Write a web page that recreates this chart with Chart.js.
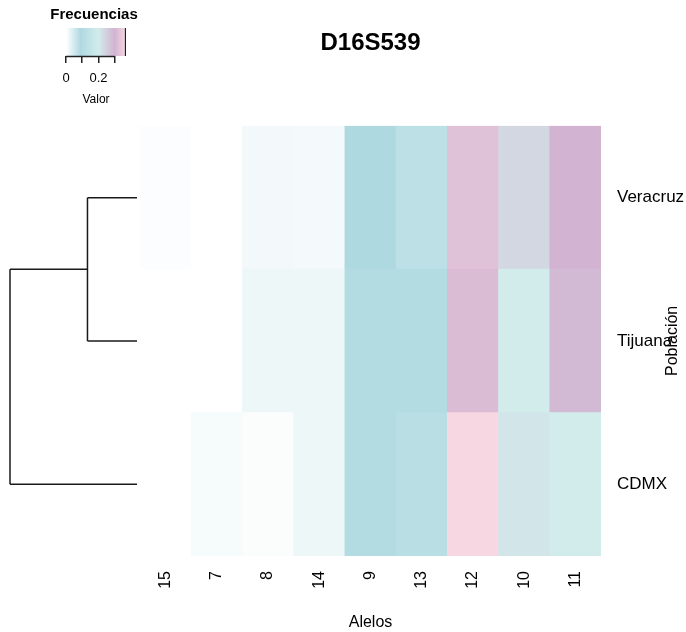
<!DOCTYPE html>
<html lang="es">
<head>
<meta charset="UTF-8">
<title>D16S539</title>
<script src="https://cdn.jsdelivr.net/npm/chart.js@4.4.1/dist/chart.umd.min.js"></script>
<style>
  body {margin: 0; background: #fff;}
  #lienzo {position: relative; width: 686px; height: 632px;}
  #lienzo canvas {position: absolute; left: 0; top: 0;}
</style>
</head>
<body>
<div id="lienzo">
  <canvas id="heat" width="686" height="632"></canvas>
  <canvas id="dendro" width="686" height="632"></canvas>
  <canvas id="clave" width="686" height="632"></canvas>
</div>
<script>
// alelos en el orden de las columnas
const alelos = ['15', '7', '8', '14', '9', '13', '12', '10', '11'];
// poblaciones de arriba hacia abajo
const poblaciones = ['Veracruz', 'Tijuana', 'CDMX'];

// frecuencias por poblacion (mismo orden que alelos)
const veracruz = [0.004, 0, 0.014, 0.012, 0.09, 0.13, 0.327, 0.237, 0.30];
const tijuana  = [0, 0, 0.02, 0.02, 0.10, 0.10, 0.316, 0.20, 0.29];
const cdmx     = [0, 0.01, 0.005, 0.02, 0.10, 0.12, 0.37, 0.21, 0.20];

// dendrograma: altura de union (Veracruz+Tijuana), luego (+CDMX)
const alturasUnion = [0.39, 1.0];

// escala de color
const escalaValores = [0, 0.09, 0.2, 0.3, 0.37];
const escalaColores = ['#ffffff', '#afd9e1', '#d2ecec', '#d2b4d2', '#f7d7e1'];
const clavePasos = [0, 0.1, 0.2, 0.3];
const claveEtiquetas = ['0', '', '0.2', ''];

const fuente = "'Liberation Sans', Arial, sans-serif";
const maxValor = Math.max(...veracruz, ...tijuana, ...cdmx);

function hexRgb(h) {
  return [1, 3, 5].map(i => parseInt(h.substr(i, 2), 16));
}
function colorDe(v) {
  for (let i = 1; i < escalaValores.length; i++) {
    if (v <= escalaValores[i] || i === escalaValores.length - 1) {
      let t = (v - escalaValores[i - 1]) / (escalaValores[i] - escalaValores[i - 1]);
      t = Math.max(0, Math.min(1, t));
      const a = hexRgb(escalaColores[i - 1]), b = hexRgb(escalaColores[i]);
      const c = a.map((x, k) => Math.round(x + (b[k] - x) * t));
      return `rgb(${c[0]},${c[1]},${c[2]})`;
    }
  }
}

// ---- mapa de calor ----
// apiladas de abajo (CDMX) hacia arriba (Veracruz)
const filas = [cdmx, tijuana, veracruz];

const textoPoblacion = {
  id: 'textoPoblacion',
  afterDraw(chart) {
    const ctx = chart.ctx;
    const y = chart.scales.y.getPixelForValue(1.5);
    ctx.save();
    ctx.translate(673, y);
    ctx.rotate(-Math.PI / 2);
    ctx.font = `16px ${fuente}`;
    ctx.fillStyle = '#000';
    ctx.textAlign = 'center';
    ctx.textBaseline = 'middle';
    ctx.fillText('Población', 0, 0);
    ctx.restore();
  }
};

new Chart(document.getElementById('heat'), {
  type: 'bar',
  data: {
    labels: alelos,
    datasets: filas.map((vals, i) => ({
      label: poblaciones[2 - i],
      data: alelos.map(() => 1),
      backgroundColor: vals.map(colorDe),
      borderWidth: 0,
      barPercentage: 1,
      categoryPercentage: 1
    }))
  },
  options: {
    responsive: false,
    animation: false,
    devicePixelRatio: 1,
    layout: {padding: {left: 140, right: 0, top: 0, bottom: 0}},
    plugins: {
      legend: {display: false},
      tooltip: {enabled: false},
      title: {
        display: true,
        text: 'D16S539',
        fullSize: false,
        color: '#000',
        font: {family: fuente, size: 24, weight: 'bold'},
        padding: {top: 29, bottom: 68}
      }
    },
    scales: {
      x: {
        stacked: true,
        grid: {display: false, drawTicks: false},
        border: {display: false},
        ticks: {minRotation: 90, maxRotation: 90, padding: 15, color: '#000', font: {family: fuente, size: 16}},
        title: {display: true, text: 'Alelos', color: '#000', font: {family: fuente, size: 16}, padding: 0},
        afterFit: s => { s.height = 76; }
      },
      y: {
        stacked: true,
        position: 'right',
        min: 0,
        max: 3,
        grid: {display: false, drawTicks: false},
        border: {display: false},
        afterBuildTicks: s => { s.ticks = [0.5, 1.5, 2.5].map(v => ({value: v})); },
        ticks: {
          padding: 16,
          color: '#000',
          font: {family: fuente, size: 17},
          callback: v => poblaciones[2 - Math.floor(v)]
        },
        afterFit: s => { s.width = 85; }
      }
    }
  },
  plugins: [textoPoblacion]
});

// ---- dendrograma ----
const posHoja = {Veracruz: 2.5, Tijuana: 1.5, CDMX: 0.5};
const segmentos = [];
// union 1: Veracruz + Tijuana
const h1 = alturasUnion[0];
segmentos.push([[0, posHoja.Veracruz], [h1, posHoja.Veracruz]]);
segmentos.push([[0, posHoja.Tijuana], [h1, posHoja.Tijuana]]);
segmentos.push([[h1, posHoja.Veracruz], [h1, posHoja.Tijuana]]);
const yNodo = (posHoja.Veracruz + posHoja.Tijuana) / 2;
// union 2: nodo + CDMX
const h2 = alturasUnion[1];
segmentos.push([[h1, yNodo], [h2, yNodo]]);
segmentos.push([[0, posHoja.CDMX], [h2, posHoja.CDMX]]);
segmentos.push([[h2, yNodo], [h2, posHoja.CDMX]]);

new Chart(document.getElementById('dendro'), {
  type: 'scatter',
  data: {
    datasets: segmentos.map(s => ({
      data: s.map(p => ({x: p[0], y: p[1]})),
      showLine: true,
      pointRadius: 0,
      borderColor: '#1a1a1a',
      borderWidth: 1.5,
      clip: false
    }))
  },
  options: {
    responsive: false,
    animation: false,
    devicePixelRatio: 1,
    layout: {padding: {left: 10, right: 549, top: 126, bottom: 76}},
    plugins: {legend: {display: false}, tooltip: {enabled: false}},
    scales: {
      x: {type: 'linear', reverse: true, min: 0, max: h2, display: false},
      y: {type: 'linear', min: 0, max: 3, display: false}
    }
  }
});

// ---- clave de color ----
const ejeClave = {
  id: 'ejeClave',
  afterDraw(chart) {
    const xs = chart.scales.x;
    const ctx = chart.ctx;
    const area = chart.chartArea;
    const y = area.bottom + 0.5;
    ctx.save();
    ctx.strokeStyle = '#222';
    ctx.lineWidth = 1.5;
    ctx.beginPath();
    ctx.moveTo(xs.getPixelForValue(clavePasos[0]), y);
    ctx.lineTo(xs.getPixelForValue(clavePasos[clavePasos.length - 1]), y);
    ctx.stroke();
    // titulo de la clave
    ctx.font = `bold 15px ${fuente}`;
    ctx.fillStyle = '#000';
    ctx.textAlign = 'center';
    ctx.textBaseline = 'middle';
    ctx.fillText('Frecuencias', (area.left + area.right) / 2 - 2, 15);
    ctx.restore();
  }
};

new Chart(document.getElementById('clave'), {
  type: 'bar',
  data: {
    labels: ['Valor'],
    datasets: [{
      data: [[0, maxValor]],
      backgroundColor: ctx => {
        const ch = ctx.chart;
        if (!ch.chartArea) return null;
        const xs = ch.scales.x;
        const g = ch.ctx.createLinearGradient(xs.getPixelForValue(0), 0, xs.getPixelForValue(maxValor), 0);
        escalaValores.forEach((v, i) => g.addColorStop(Math.min(1, v / maxValor), escalaColores[i]));
        return g;
      },
      borderColor: '#222',
      borderWidth: {top: 0, right: 1.5, bottom: 0, left: 0},
      borderSkipped: false,
      barPercentage: 1,
      categoryPercentage: 1
    }]
  },
  options: {
    indexAxis: 'y',
    responsive: false,
    animation: false,
    devicePixelRatio: 1,
    layout: {padding: {left: 66, right: 560, top: 28, bottom: 632 - 56 - 54}},
    plugins: {
      legend: {display: false},
      tooltip: {enabled: false}
    },
    scales: {
      x: {
        min: 0,
        max: maxValor,
        grid: {drawOnChartArea: false, tickLength: 7, color: '#222', lineWidth: 1.5},
        border: {display: false},
        afterBuildTicks: s => { s.ticks = clavePasos.map(v => ({value: v})); },
        ticks: {
          autoSkip: false,
          maxRotation: 0,
          padding: 8,
          color: '#000',
          font: {family: fuente, size: 13},
          callback: (v, i) => claveEtiquetas[i]
        },
        title: {display: true, text: 'Valor', color: '#000', font: {family: fuente, size: 12}, padding: {top: 0, bottom: 3}},
        afterFit: s => { s.height = 54; }
      },
      y: {display: false}
    }
  },
  plugins: [ejeClave]
});
</script>
</body>
</html>
